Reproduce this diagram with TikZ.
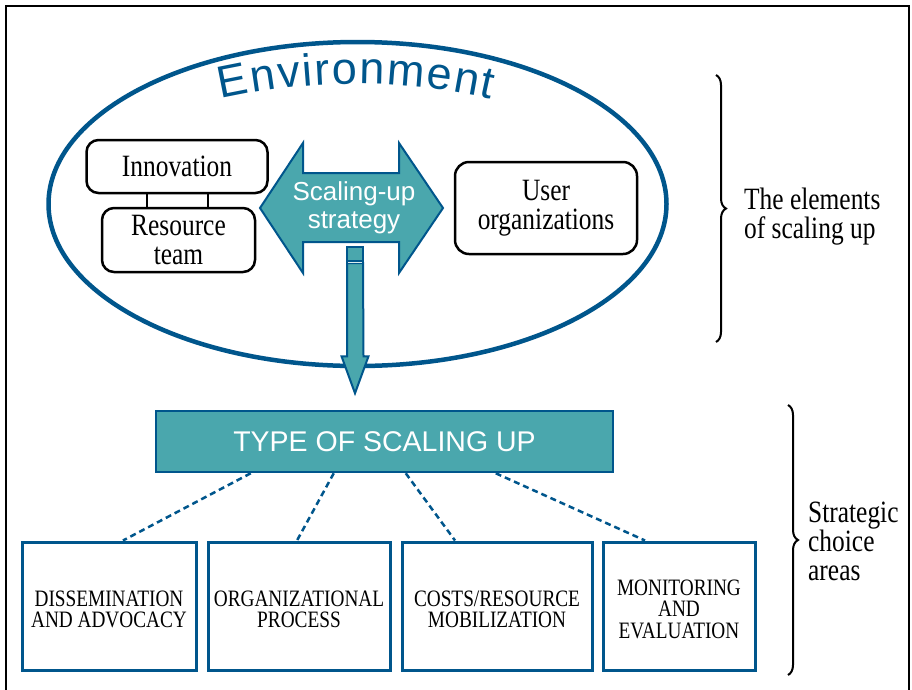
\documentclass[tikz,border=0pt]{standalone}
\usepackage{fontspec}
\newfontfamily\serifc[FakeStretch=0.82]{Liberation Serif}
\newfontfamily\sansf{Liberation Sans}
\usetikzlibrary{decorations.text,decorations.pathreplacing,calc}
\definecolor{envblue}{RGB}{0,86,140}
\definecolor{tealfill}{RGB}{74,167,173}
\newcommand\boxlift{\rule{0pt}{22pt}}
\begin{document}
\begin{tikzpicture}[x=1pt,y=-1pt,
  rbox/.style={draw=black, line width=2.5pt, rounded corners=12pt, align=center, inner sep=0pt, font=\serifc\fontsize{31}{29}\selectfont},
  cbox/.style={draw=envblue, line width=3pt, align=center, inner sep=0pt, minimum height=128pt, font=\serifc\fontsize{23.5}{21.5}\selectfont},
  dline/.style={envblue, line width=2.5pt, dash pattern=on 6pt off 4pt},
  tealshape/.style={fill=tealfill, draw=envblue, line width=2pt, line join=miter},
  side/.style={font=\serifc\fontsize{31}{29}\selectfont, align=left, anchor=west, inner sep=0pt},
  brc/.style={line width=2pt, decorate, decoration={brace, amplitude=10pt}}
]
\useasboundingbox (0,0) rectangle (912,689);
\fill[white] (0,0) rectangle (912,689);
% outer frame
\draw[line width=2pt] (6,700) -- (6,6) -- (909,6) -- (909,700);
% environment ellipse
\draw[envblue, line width=4.5pt] (357.5,204) ellipse [x radius=309pt, y radius=162pt];
\path[decorate, decoration={text along path, text align={fit to path}, text color=envblue,
  text={|\sansf\fontsize{45}{45}\selectfont|Environment}}]
  (221,99) .. controls (311,79) and (403,79) .. (491,99);
% inner boxes
\node[rbox, minimum width=181pt, minimum height=53pt] (innov) at (177,166.5) {Innovation};
\node[rbox, minimum width=153pt, minimum height=64pt] (res) at (178.5,240) {Resource\\team};
\draw[line width=2.5pt] ($(innov.south)+(-30,0)$) -- ($(res.north)+(-31.5,0)$);
\draw[line width=2.5pt] ($(innov.south)+(31,0)$) -- ($(res.north)+(29.5,0)$);
\node[rbox, minimum width=182pt, minimum height=92pt, rounded corners=14pt] (user) at (546,208) {User\\organizations};
% strategy double arrow
\draw[tealshape] (260,208) -- (303,143) -- (303,173) -- (399,173) -- (399,143) -- (443,208)
  -- (399,273) -- (399,242) -- (303,242) -- (303,273) -- cycle;
\node[font=\sansf\fontsize{26}{28}\selectfont, text=white, align=center, inner sep=0pt] (strat) at (354,208) {Scaling-up\\strategy};
% type of scaling up
\node[draw=envblue, fill=tealfill, line width=2.5pt, minimum width=457pt, minimum height=61pt, inner sep=0pt,
  text=white, font=\sansf\fontsize{28.5}{28.5}\selectfont] (type) at (384.5,441.5) {TYPE OF SCALING UP};
% down arrow
\coordinate (atop) at (355,247);
\coordinate (atip) at ($(type.north)+(-29.5,-16.5)$);
\draw[tealshape] ($(atop)+(-8,0)$) rectangle ($(atop)+(8,14)$);
\draw[tealshape] ($(atop)+(-8,16)$) -- ($(atop)+(8,16)$) -- ($(atip)+(8.5,-37)$) -- ($(atip)+(13.5,-37)$)
  -- (atip) -- ($(atip)+(-13.5,-37)$) -- ($(atip)+(-8,-37)$) -- cycle;
\draw[white!80!tealfill, line width=1pt] ($(atop)+(-7,15)$) -- ($(atop)+(7,15)$);
% choice boxes
\node[cbox, minimum width=174pt] (b1) at (109,606) {\boxlift DISSEMINATION\\AND ADVOCACY};
\node[cbox, minimum width=182pt] (b2) at (299,606) {\boxlift ORGANIZATIONAL\\PROCESS};
\node[cbox, minimum width=190pt] (b3) at (497,606) {\boxlift COSTS/RESOURCE\\MOBILIZATION};
\node[cbox, minimum width=152pt] (b4) at (679,606) {\boxlift MONITORING\\AND\\EVALUATION};
% dashed connectors
\draw[dline] ($(type.south west)+(96,0)$) -- ($(b1.north)+(14,0)$);
\draw[dline] ($(type.south west)+(179,0)$) -- ($(b2.north)+(-2,0)$);
\draw[dline] ($(type.south west)+(251,0)$) -- ($(b3.north)+(-42,0)$);
\draw[dline] ($(type.south west)+(341,0)$) -- ($(b4.north)+(-34,0)$);
% braces and side labels
\draw[brc] (716,75) -- (716,342);
\node[side] (elem) at (744,217) {The elements\\of scaling up};
\draw[brc] (788,405) -- (788,675);
\node[side] (strc) at (808,541) {Strategic\\choice\\areas};
\end{tikzpicture}
\end{document}
